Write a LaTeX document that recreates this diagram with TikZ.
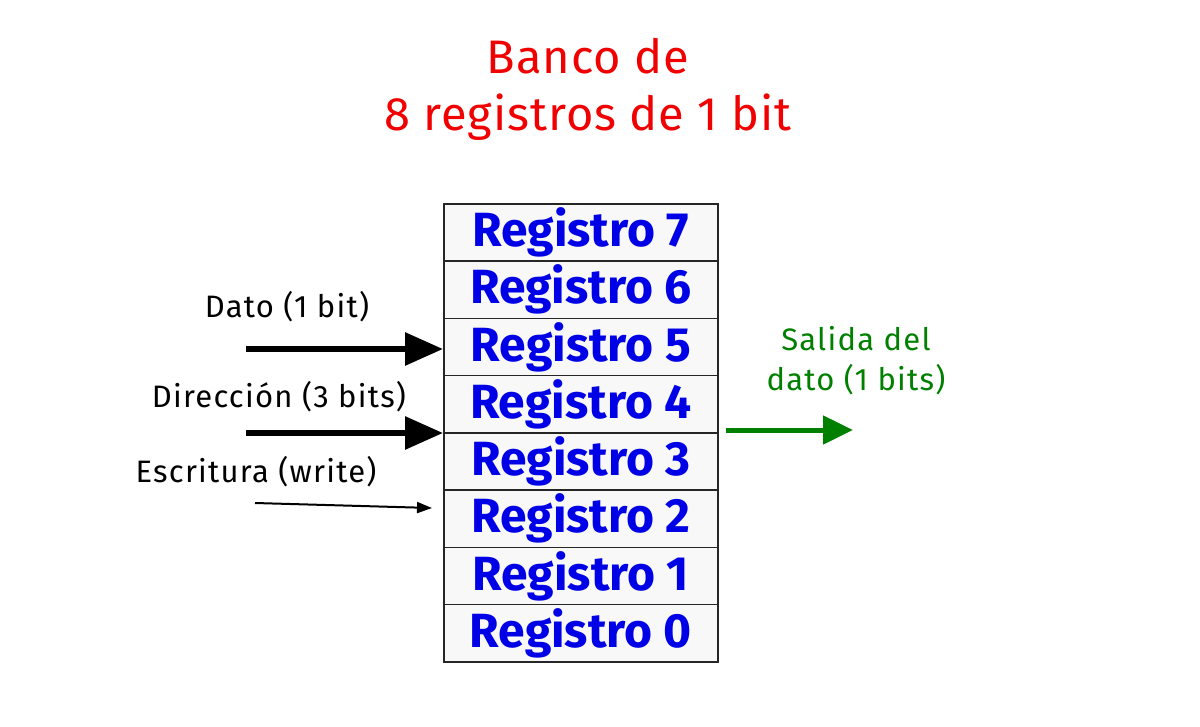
\documentclass[tikz,border=0pt]{standalone}
\usepackage{fontspec}
\setmainfont{Fira Sans}
\newfontfamily\spacedfont[LetterSpace=4]{Fira Sans}
\newfontfamily\titlefont[LetterSpace=2]{Fira Sans}
\usetikzlibrary{arrows.meta}
\definecolor{regblue}{RGB}{0,0,230}
\definecolor{titlered}{RGB}{240,0,0}
\definecolor{outgreen}{RGB}{0,128,0}
\definecolor{regfill}{RGB}{248,248,248}
\tikzset{
  regbox/.style={draw=black!85, line width=1.6pt, fill=regfill, minimum width=274pt, minimum height=57.3pt, inner sep=0pt, font=\fontsize{48}{52}\selectfont\bfseries, text=regblue, anchor=north west},
  lbl/.style={font=\spacedfont\fontsize{31}{36}\selectfont, text=black, inner sep=0pt},
  bigarrow/.style={line width=6pt, -{Triangle[length=38pt,width=32pt]}},
  thinarrow/.style={line width=2pt, -{Triangle[length=15pt,width=11pt]}},
}
\begin{document}
\begin{tikzpicture}[x=1pt,y=-1pt]
\useasboundingbox (0,0) rectangle (1200,726);
% title
\node[font=\titlefont\fontsize{47}{57}\selectfont, text=titlered, align=center, inner sep=0pt] (title) at (588,89) {Banco de\\8 registros de 1 bit};
% registers
\foreach \i [evaluate=\i as \yy using {203+(7-\i)*57.25}] in {7,6,...,0} {
  \node[regbox] (r\i) at (443,\yy) {Registro \i};
}
% inputs
\node[lbl] (ldato) at (287,307) {Dato (1 bit)};
\node[lbl] (ldir) at (279,397) {Dirección (3 bits)};
\node[lbl] (lesc) at (256,472) {Escritura (write)};
\coordinate (sdato) at (246,349);
\coordinate (sdir) at (246,433);
\coordinate (sesc) at (255,503);
\coordinate (eesc) at (432,508);
\draw[bigarrow] (sdato) -- (sdato -| r5.west);
\draw[bigarrow] (sdir) -- (sdir -| r3.west);
\draw[thinarrow] (sesc) -- (eesc);
% output
\node[font=\spacedfont\fontsize{31}{40}\selectfont, text=outgreen, align=center, inner sep=0pt] (lout) at (856,361) {Salida del\\dato (1 bits)};
\coordinate (eout) at (853,430);
\draw[outgreen, line width=5pt, -{Triangle[length=30pt,width=28pt]}] ([xshift=7pt]r3.north east |- eout) -- (eout);
\end{tikzpicture}
\end{document}
